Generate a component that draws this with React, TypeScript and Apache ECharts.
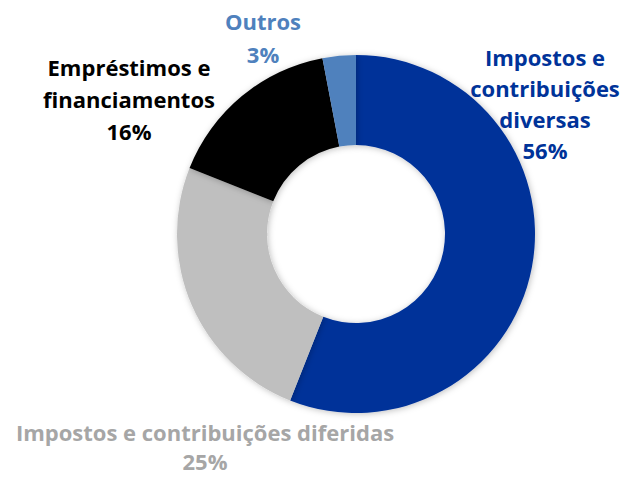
import React, { useEffect, useRef } from "react";
import * as echarts from "echarts";

const categories = [
  "Impostos e\ncontribuições\ndiversas",
  "Impostos e contribuições diferidas",
  "Empréstimos e\nfinanciamentos",
  "Outros",
];
const values = [56, 25, 16, 3];
const sliceColors = ["#003399", "#BFBFBF", "#000000", "#4F81BD"];
const labelColors = ["#003399", "#A6A6A6", "#000000", "#4F81BD"];
// label anchor positions (center of text block) in px
const labelPos = [
  [545, 103],
  [205, 446],
  [129, 99],
  [263, 37],
];
const labelLineHeights = [31, 29, 32, 33];

export default function App() {
  const ref = useRef<HTMLDivElement>(null);
  useEffect(() => {
    document.body.style.margin = "0";
    const chart = echarts.init(ref.current!, null, { renderer: "svg" });
    chart.setOption({
      animation: false,
      backgroundColor: "#ffffff",
      series: [
        {
          type: "pie",
          center: [356, 234],
          radius: [89, 179],
          startAngle: 90,
          clockwise: true,
          avoidLabelOverlap: false,
          data: categories.map((c, i) => ({
            name: c,
            value: values[i],
            itemStyle: { color: sliceColors[i] },
            label: { color: labelColors[i], lineHeight: labelLineHeights[i] },
          })),
          itemStyle: {
            shadowBlur: 6,
            shadowColor: "rgba(0,0,0,0.25)",
            shadowOffsetX: 1,
            shadowOffsetY: 1,
          },
          label: {
            show: true,
            position: "outside",
            formatter: (p: any) => `${p.name}\n${p.value}%`,
            fontFamily: "'Open Sans', sans-serif",
            fontWeight: "bold",
            fontSize: 22,
            align: "center",
          },
          labelLine: { show: false },
          labelLayout: (params: any) => {
            const [x, y] = labelPos[params.dataIndex];
            return { x, y, align: "center", verticalAlign: "middle" };
          },
        },
      ],
    });
    return () => chart.dispose();
  }, []);
  return <div ref={ref} style={{ width: 643, height: 477 }} />;
}
